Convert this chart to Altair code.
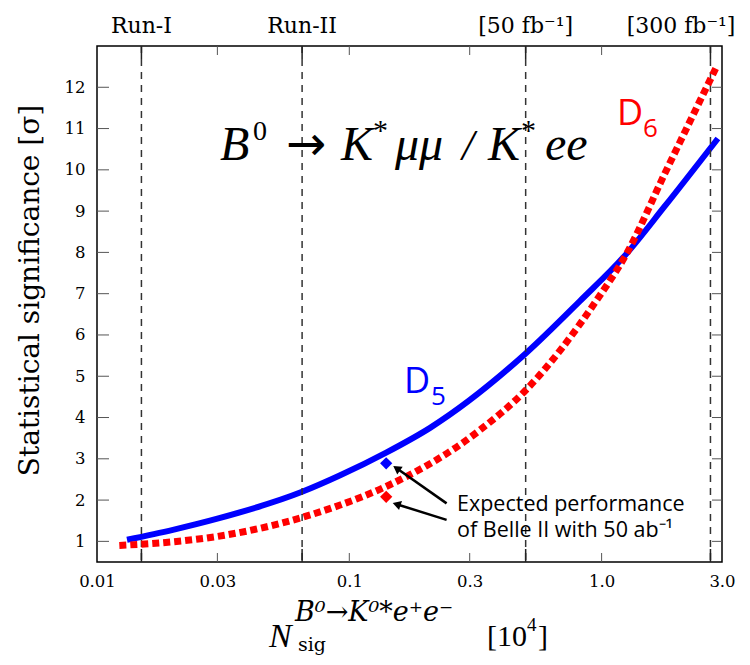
import altair as alt
import pandas as pd

# ---------------- data ----------------
d5_x = [0.01315, 0.02, 0.03, 0.065, 0.092, 0.14, 0.209, 0.5, 0.82, 1.256, 1.77, 2.89]
d5_y = [1.04, 1.28, 1.55, 2.2, 2.6, 3.15, 3.75, 5.55, 6.82, 7.97, 9.1, 10.76]
d6_x = [0.01226, 0.02, 0.03, 0.065, 0.092, 0.14, 0.33, 0.5, 0.955, 1.256, 1.78, 2.85]
d6_y = [0.9, 0.99, 1.12, 1.58, 1.88, 2.33, 3.7, 4.66, 6.84, 7.97, 9.91, 12.49]
belle_x = [0.14, 0.14]
belle_y = [2.89, 2.08]
belle_series = ["D5", "D6"]
run_x = [0.015, 0.065, 0.5, 2.7]
run_labels = ["Run-I", "Run-II", "[50 fb\u207b\u00b9]", "[300 fb\u207b\u00b9]"]
x_tick_values = [0.01, 0.03, 0.1, 0.3, 1.0, 3.0]
x_minor = [0.03, 0.1, 0.3, 1.0]
y_tick_values = list(range(1, 13))
arrow_x0 = [0.243, 0.243]
arrow_y0 = [1.92, 1.52]
arrow_x1 = [0.154, 0.154]
arrow_y1 = [2.77, 1.90]

W, H = 625, 516
BLUE = "#0000ff"
RED = "#ff0000"
SERIF = "Liberation Serif"
CM = "DejaVu Serif"
SANS = "Open Sans"

xs = alt.Scale(type="log", domain=[0.01, 3.0])
ys = alt.Scale(domain=[0.5, 13])

XAXIS = alt.Axis(
    values=x_tick_values, ticks=False, domain=False, grid=False, title=None,
    labelExpr="datum.value >= 1 ? format(datum.value, '.1f') : '' + datum.value",
    labelFlush=False, labelPadding=11, labelOverlap=False)
YAXIS = alt.Axis(
    values=y_tick_values, ticks=False, domain=False, grid=False,
    title="Statistical significance [\u03c3]", titleFont=CM, titleFontSize=28,
    titleFontWeight="normal", titleX=-67, titleY=244, titleAngle=270,
    titleAlign="center", titleBaseline="middle",
    labelFlush=False, labelPadding=12)

d5 = pd.DataFrame({"x": d5_x, "y": d5_y})
d6 = pd.DataFrame({"x": d6_x, "y": d6_y})
belle = pd.DataFrame({"x": belle_x, "y": belle_y, "s": belle_series})
runs = pd.DataFrame({"x": run_x, "label": run_labels})
arrows = pd.DataFrame({"x0": arrow_x0, "y0": arrow_y0, "x1": arrow_x1, "y1": arrow_y1})


def X(f="x"):
    return alt.X(f"{f}:Q", scale=xs, axis=XAXIS)


def Y(f="y"):
    return alt.Y(f"{f}:Q", scale=ys, axis=YAXIS)


d5_line = alt.Chart(d5).mark_line(
    color=BLUE, strokeWidth=6, interpolate="monotone", strokeCap="butt"
).encode(x=X(), y=Y())

d6_line = alt.Chart(d6).mark_line(
    color=RED, strokeWidth=7, strokeDash=[7, 4], interpolate="monotone", strokeCap="butt"
).encode(x=X(), y=Y())

vlines = alt.Chart(runs).mark_rule(color="#333333", strokeWidth=1.5, strokeDash=[7, 6]).encode(x=X())

run_lab_a = alt.Chart(runs.iloc[:3]).mark_text(
    font=CM, fontSize=22, baseline="alphabetic", align="center", color="black"
).encode(x=X(), y=alt.value(-13), text="label:N")
run_lab_b = alt.Chart(runs.iloc[3:]).mark_text(
    font=CM, fontSize=22, baseline="alphabetic", align="right", color="black", dx=25
).encode(x=X(), y=alt.value(-13), text="label:N")

minor_df = pd.DataFrame({"x": x_minor})
ytk = pd.DataFrame({"y": y_tick_values})
ticks = [
    alt.Chart(minor_df).mark_rule(color="#555", strokeWidth=1).encode(x=X(), y=alt.value(H), y2=alt.value(H - 9)),
    alt.Chart(minor_df).mark_rule(color="#555", strokeWidth=1).encode(x=X(), y=alt.value(0), y2=alt.value(9)),
    alt.Chart(runs).mark_rule(color="#222", strokeWidth=1.5).encode(x=X(), y=alt.value(H), y2=alt.value(H - 13)),
    alt.Chart(runs).mark_rule(color="#222", strokeWidth=1.5).encode(x=X(), y=alt.value(0), y2=alt.value(13)),
    alt.Chart(ytk).mark_rule(color="#555", strokeWidth=1).encode(y=Y(), x=alt.value(0), x2=alt.value(12)),
    alt.Chart(ytk).mark_rule(color="#555", strokeWidth=1).encode(y=Y(), x=alt.value(W), x2=alt.value(W - 10)),
]

belle_pts = alt.Chart(belle).mark_point(shape="diamond", filled=True, size=150, opacity=1).encode(
    x=X(), y=Y(),
    color=alt.Color("s:N", scale=alt.Scale(domain=["D5", "D6"], range=[BLUE, RED]), legend=None),
)

arrow_lines = alt.Chart(arrows).mark_rule(color="black", strokeWidth=2.5).encode(
    x=X("x0"), y=Y("y0"), x2="x1:Q", y2="y1:Q"
)
head1 = alt.Chart(arrows.iloc[:1]).mark_point(shape="triangle-up", filled=True, size=90, color="black", opacity=1, angle=305).encode(x=X("x1"), y=Y("y1"))
head2 = alt.Chart(arrows.iloc[1:]).mark_point(shape="triangle-up", filled=True, size=90, color="black", opacity=1, angle=288).encode(x=X("x1"), y=Y("y1"))


def txt(text, x, y, size, color="black", font=SERIF, style="normal", align="left", baseline="alphabetic"):
    # x, y: page pixel position of the text anchor; converted to plot-area offsets
    return alt.Chart(alt.Data(values=[{}])).mark_text(
        text=text, font=font, fontSize=size, fontStyle=style, color=color,
        align=align, baseline=baseline
    ).encode(x=alt.value(x - 97), y=alt.value(y - 46))


annotations = [
    txt("Expected performance", 457, 511, 21.5, font=SANS),
    txt("of Belle II with 50 ab\u207b\u00b9", 457, 537, 21.5, font=SANS),
    txt("D", 404, 393, 36, color=BLUE, font=SANS),
    txt("5", 431, 405, 26, color=BLUE, font=SANS),
    txt("D", 617, 125, 36, color=RED, font=SANS),
    txt("6", 643, 137, 26, color=RED, font=SANS),
    # process formula
    txt("B", 220, 160, 48, style="italic"),
    txt("0", 253, 140, 28),
    txt("\u2192", 286, 160, 48, font="DejaVu Sans"),
    txt("K", 341, 160, 48, style="italic"),
    txt("*", 373, 140, 30),
    txt("\u03bc\u03bc", 395, 160, 48, style="italic"),
    txt("/", 462, 160, 44, style="italic"),
    txt("K", 488, 160, 48, style="italic"),
    txt("*", 521, 140, 30),
    txt("ee", 545, 160, 48, style="italic"),
    # x-axis title
    txt("N", 269, 647, 34, style="italic"),
    txt("B\u2070\u2192K\u2070*e\u207ae\u207b", 295, 621, 27, font=CM, style="italic"),
    txt("sig", 298, 651, 19, font=CM),
    txt("[10", 487, 646, 30),
    txt("4", 527, 631, 19),
    txt("]", 538, 646, 30),
]

chart = alt.layer(
    d5_line, vlines, *ticks, d6_line, belle_pts, arrow_lines, head1, head2,
    run_lab_a, run_lab_b, *annotations
).properties(
    width=W, height=H,
    autosize=alt.AutoSizeParams(type="none"),
    padding={"left": 89, "top": 38, "right": 20, "bottom": 95},
).configure_view(
    stroke="black", strokeWidth=1.5
).configure_axis(
    labelFont=CM, labelFontSize=16.5, labelColor="black", titleColor="black"
)

chart.save("out.html", embed_options={"renderer": "svg", "actions": False})
